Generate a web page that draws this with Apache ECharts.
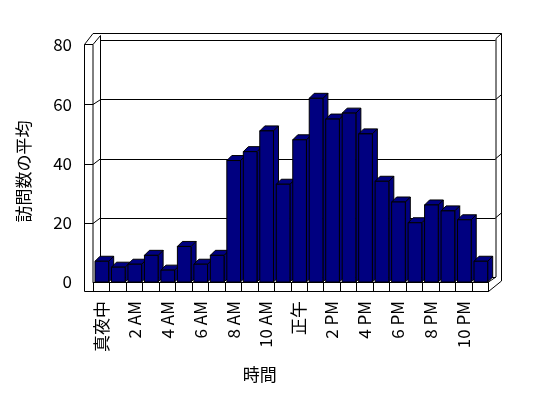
<!DOCTYPE html>
<html><head><meta charset="utf-8">
<script src="https://cdn.jsdelivr.net/npm/echarts@6/dist/echarts.min.js"></script>
<style>html,body{margin:0;padding:0;background:#fff}#c{width:548px;height:398px}</style>
</head><body><div id="c"></div>
<script>
// ---- data ----
const categories = ['真夜中','1 AM','2 AM','3 AM','4 AM','5 AM','6 AM','7 AM','8 AM','9 AM','10 AM','11 AM',
                    '正午','1 PM','2 PM','3 PM','4 PM','5 PM','6 PM','7 PM','8 PM','9 PM','10 PM','11 PM'];
const visits = [7,5,6,9,4,12,6,9,41,44,51,33,48,62,55,57,50,34,27,20,26,24,21,7];
const yMin = 0, yMax = 80, yStep = 20;
const gridValues = [20,40,60];
const xName = '時間';
const yName = '訪問数の平均';

// ---- layout ----
const W = 548, H = 398;
const FL = 93, FR = 488.5, FT = 45, FB = 282;       // front plane (bars)
const BL = 100.5, BR = 495.5, BT = 40.5, BB = 277;   // back wall
const WALLX = 84.5, FLOORY = 291.5, TOPY = 33.5, RIGHTX = 501.5;
const FONT = '"Noto Sans CJK JP", "Noto Sans", sans-serif';
const NAVY = '#000080';
const D = 5;

const chart = echarts.init(document.getElementById('c'), null, {renderer: 'canvas'});
const option = {
  backgroundColor: '#fff',
  animation: false,
  grid: [
    {left: FL, right: W - FR, top: FT, bottom: H - FB},
    {left: BL, right: W - BR, top: BT, bottom: H - BB}
  ],
  xAxis: [
    {type: 'category', gridIndex: 0, data: categories, boundaryGap: true,
     name: xName, nameLocation: 'middle', nameGap: 84,
     nameTextStyle: {fontFamily: FONT, fontSize: 17, color: '#000', padding: [0, 62, 0, 0]},
     axisLine: {show: true, lineStyle: {color: '#000', width: 1}},
     axisTick: {show: true, interval: 0, length: 9.5, lineStyle: {color: '#000'}},
     axisLabel: {interval: 1, rotate: 90, margin: 19, fontFamily: FONT, fontSize: 17, color: '#000'},
     splitLine: {show: false}},
    {type: 'category', gridIndex: 1, data: categories, show: false}
  ],
  yAxis: [
    {type: 'value', gridIndex: 0, min: yMin, max: yMax, interval: yStep,
     name: yName, nameLocation: 'middle', nameGap: 61,
     nameTextStyle: {fontFamily: FONT, fontSize: 17, color: '#000', padding: [0, 16, 0, 0]},
     axisLine: {show: false}, axisTick: {show: false},
     axisLabel: {margin: 21, fontFamily: FONT, fontSize: 17, color: '#000'},
     splitLine: {show: false}},
    {type: 'value', gridIndex: 1, min: yMin, max: yMax, interval: yStep,
     axisLine: {show: false}, axisTick: {show: false}, axisLabel: {show: false},
     splitLine: {show: true, lineStyle: {color: '#000', width: 1}}}
  ],
  series: [{
    type: 'custom', xAxisIndex: 0, yAxisIndex: 0,
    data: visits.map((v, i) => [i, v]),
    renderItem: function (params, api) {
      const top = api.coord([api.value(0), api.value(1)]);
      const base = api.coord([api.value(0), 0]);
      const bw = api.size([1, 0])[0] * 0.83;
      const x0 = top[0] - bw / 2 + 0.6, x1 = x0 + bw, yt = top[1], yb = base[1];
      const st = {fill: NAVY, stroke: '#000', lineWidth: 1};
      return {type: 'group', children: [
        {type: 'polygon', shape: {points: [[x1, yt], [x1 + D, yt - D], [x1 + D, yb - D], [x1, yb]]}, style: st},
        {type: 'polygon', shape: {points: [[x0, yt], [x1, yt], [x1 + D, yt - D], [x0 + D, yt - D]]}, style: st},
        {type: 'rect', shape: {x: x0, y: yt, width: bw, height: yb - yt}, style: st}
      ]};
    }
  }]
};
chart.setOption(option);

function seg(a, b) {
  return {type: 'line', z: 1, silent: true, shape: {x1: a[0], y1: a[1], x2: b[0], y2: b[1]},
          style: {stroke: '#000', lineWidth: 1}};
}
const g = [];
const yF = v => chart.convertToPixel({yAxisIndex: 0}, v);
const yB = v => chart.convertToPixel({yAxisIndex: 1}, v);
const ft = yF(yMax) - 0.5;
g.push(seg([WALLX, ft], [WALLX, FLOORY]));
g.push(seg([WALLX, FLOORY], [FR, FLOORY]));
g.push(seg([FR, FB], [FR, FLOORY]));
g.push(seg([FL, ft], [FL, FB]));
g.push(seg([WALLX, ft], [FL, ft]));
g.push(seg([WALLX, ft], [FL, TOPY]));
g.push(seg([FL, TOPY], [RIGHTX, TOPY]));
g.push(seg([FL, ft], [BL, TOPY + 2]));
g.push(seg([BL, TOPY + 2], [BL, BB]));
g.push(seg([RIGHTX, TOPY], [RIGHTX, FLOORY - 10.5]));
g.push(seg([RIGHTX, TOPY], [BR + 0.5, TOPY + 5]));
g.push(seg([BR + 0.5, TOPY + 5], [BR + 0.5, BB]));
g.push(seg([FR, FLOORY], [RIGHTX, FLOORY - 10.5]));
g.push(seg([FR, FB], [BR + 0.5, BB]));
gridValues.forEach(v => {
  const a = Math.round(yF(v)) + 0.5, b = yB(v);
  g.push(seg([WALLX, a], [FL, a]));
  g.push(seg([FL, a], [BL, b]));
  g.push(seg([BR, b], [RIGHTX, b - 5]));
});
chart.setOption({graphic: g});
</script></body></html>
